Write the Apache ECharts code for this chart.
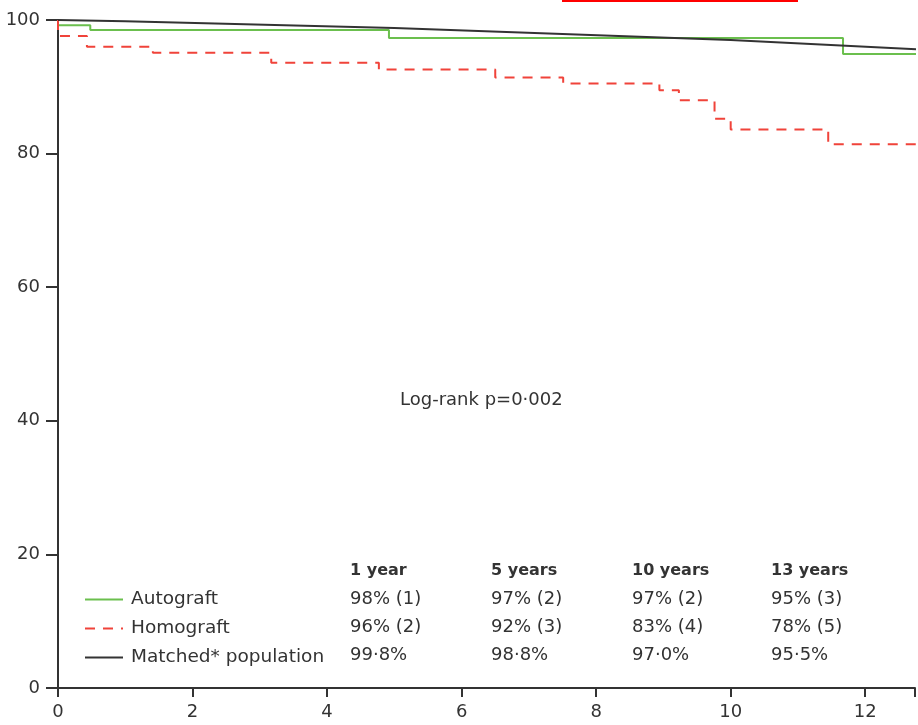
<!DOCTYPE html>
<html>
<head>
<meta charset="utf-8">
<script src="https://cdn.jsdelivr.net/npm/echarts@6/dist/echarts.min.js"></script>
<style>
  html, body { margin: 0; padding: 0; background: #fff; }
  #main { width: 918px; height: 725px; }
</style>
</head>
<body>
<div id="main"></div>
<script>
// Kaplan-Meier steps: [years, % survival]
var autograft = [[0, 99.2], [0.48, 98.5], [4.92, 97.3], [11.67, 94.9], [13, 94.9]];
var homograft = [[0, 100], [0, 97.6], [0.43, 96.0], [1.41, 95.1], [3.17, 93.6], [4.77, 92.6],
                 [6.5, 91.4], [7.51, 90.5], [8.94, 89.5], [9.23, 88.0], [9.76, 85.2],
                 [10.0, 83.6], [11.45, 81.4], [13, 81.4]];
var matched = [[0, 100], [1, 99.8], [5, 98.8], [10, 97.0], [13, 95.5]];

var seriesNames = ['Autograft', 'Homograft', 'Matched* population'];
var tableHeads = ['1 year', '5 years', '10 years', '13 years'];
var autograftRow = ['98% (1)', '97% (2)', '97% (2)', '95% (3)'];
var homograftRow = ['96% (2)', '92% (3)', '83% (4)', '78% (5)'];
var matchedRow = ['99·8%', '98·8%', '97·0%', '95·5%'];
var pValue = 'Log-rank p=0·002';

var FONT = '"DejaVu Sans", sans-serif';
var TXT = '#333';

var myChart = echarts.init(document.getElementById('main'));

// table columns on the chart
var colX = [350, 491, 632, 771];
var rowY = [571, 599, 627, 655];
var tableRows = [tableHeads, autograftRow, homograftRow, matchedRow];
var tableGraphics = [];
for (var r = 0; r < tableRows.length; r++) {
    for (var c = 0; c < colX.length; c++) {
        tableGraphics.push({
            type: 'text',
            x: colX[c],
            y: rowY[r],
            style: {
                text: tableRows[r][c],
                fill: TXT,
                verticalAlign: 'middle',
                font: (r === 0 ? 'bold 16px ' : '18px ') + FONT
            }
        });
    }
}

myChart.setOption({
    backgroundColor: '#fff',
    animation: false,
    grid: { left: 58, right: 0, top: 20, bottom: 37, containLabel: false },
    legend: {
        data: seriesNames,
        orient: 'vertical',
        left: 84,
        top: 590,
        padding: 0,
        itemWidth: 38,
        itemHeight: 18,
        itemGap: 10,
        itemStyle: { opacity: 0 },
        textStyle: { fontFamily: FONT, fontSize: 18.5, color: TXT, lineHeight: 18, padding: [0, 0, 0, 3] }
    },
    xAxis: {
        type: 'value',
        min: 0,
        max: 12.74,
        interval: 2,
        splitLine: { show: false },
        axisLine: { lineStyle: { color: '#333', width: 2 } },
        axisTick: { length: 9, lineStyle: { color: '#333', width: 2 } },
        axisLabel: {
            margin: 15,
            fontFamily: FONT, fontSize: 18, color: TXT,
            formatter: function (v) { return v % 2 === 0 ? String(v) : ''; }
        }
    },
    yAxis: {
        type: 'value',
        min: 0,
        max: 100,
        interval: 20,
        splitLine: { show: false },
        axisLine: { show: true, lineStyle: { color: '#333', width: 2 } },
        axisTick: { show: true, length: 12, lineStyle: { color: '#333', width: 2 } },
        axisLabel: { margin: 18, fontFamily: FONT, fontSize: 18, color: TXT }
    },
    graphic: [
        { type: 'rect', shape: { x: 562, y: 0, width: 236, height: 2 }, style: { fill: '#ff0000' } },
        { type: 'text', x: 400, y: 400, style: { text: pValue, fill: TXT, verticalAlign: 'middle', font: '18px ' + FONT } }
    ].concat(tableGraphics),
    series: [
        {
            name: seriesNames[0], type: 'line', step: 'end', symbol: 'none',
            data: autograft,
            lineStyle: { color: '#6bbf4e', width: 2 },
            itemStyle: { color: '#6bbf4e' }
        },
        {
            name: seriesNames[1], type: 'line', step: 'end', symbol: 'none',
            data: homograft,
            lineStyle: { color: '#f0433a', width: 2, type: [10, 8] },
            itemStyle: { color: '#f0433a' }
        },
        {
            name: seriesNames[2], type: 'line', symbol: 'none',
            data: matched,
            lineStyle: { color: '#333', width: 2 },
            itemStyle: { color: '#333' }
        }
    ]
});
window.onresize = myChart.resize;
</script>
</body>
</html>
